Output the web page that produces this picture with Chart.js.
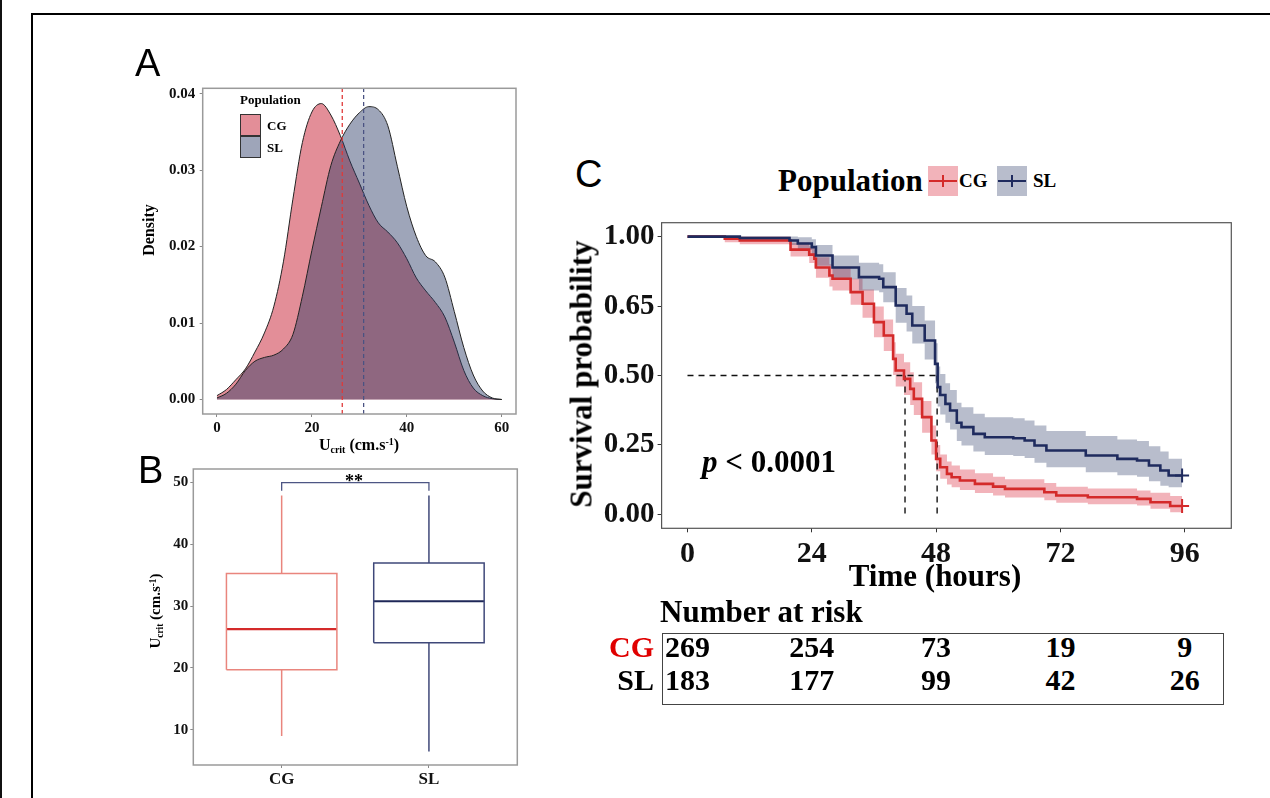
<!DOCTYPE html>
<html><head><meta charset="utf-8">
<script src="https://cdn.jsdelivr.net/npm/chart.js@4.4.1/dist/chart.umd.min.js"></script>
<style>
html,body{margin:0;padding:0;background:#fff;}
body{width:1270px;height:798px;overflow:hidden;position:relative;}
canvas{position:absolute;}
.t{position:absolute;white-space:nowrap;font-family:"Liberation Serif","Times New Roman",serif;font-weight:bold;color:#000;line-height:1;}
.t sub{font-size:0.62em;vertical-align:baseline;position:relative;top:0.3em;}
.t sup{font-size:0.62em;vertical-align:baseline;position:relative;top:-0.45em;}
.box{position:absolute;box-sizing:border-box;}
</style></head><body>
<div class="box" style="left:0;top:0;width:2px;height:798px;background:#111"></div>
<div class="box" style="left:31px;top:13px;width:1300px;height:900px;border-left:2px solid #000;border-top:2px solid #000"></div>
<canvas id="cA" width="400" height="380" style="left:130px;top:80px"></canvas>
<canvas id="cB" width="400" height="338" style="left:130px;top:460px"></canvas>
<canvas id="cC" width="700" height="400" style="left:560px;top:200px"></canvas>
<script>
// ---------- Panel A: density of Ucrit ----------
const densityX   = [0,2,4,6,8,10,12,14,16,18,20,22,24,26,28,30,32,34,36,38,40,42,44,46,48,50,52,54,56,58,60];
const cgDensity  = [0.0005,0.0013,0.0026,0.0040,0.0062,0.0087,0.0122,0.0180,0.0262,0.0336,0.0376,0.0387,0.0372,0.0345,0.0312,0.0283,0.0254,0.0231,0.0219,0.0205,0.0184,0.0159,0.0142,0.0127,0.0108,0.0075,0.0038,0.0015,0.0005,0.0001,0.0000];
const slDensity  = [0.0002,0.0008,0.0020,0.0038,0.0050,0.0055,0.0058,0.0066,0.0085,0.0135,0.0195,0.0252,0.0306,0.0338,0.0360,0.0375,0.0383,0.0379,0.0358,0.0305,0.0252,0.0213,0.0188,0.0180,0.0160,0.0115,0.0068,0.0032,0.0011,0.0002,0.0000];
const densXTicks = [0,20,40,60];
const densYTicks = [0,0.01,0.02,0.03,0.04];
const centerLines = [26.4, 30.9];           // CG, SL
// ---------- Panel B: boxplot ----------
const boxCategories = ['CG','SL'];
const cgBox = [9.0, 19.7, 26.3, 35.3, 47.9]; // min, q1, median, q3, max
const slBox = [6.5, 24.1, 30.8, 37.0, 47.9];
const boxYTicks = [10,20,30,40,50];
const sigBracket = [48.7, 50];
const sigLabel = '**';
// ---------- Panel C: survival ----------
const survXTicks = [0,24,48,72,96];
const survYTicks = [0,0.25,0.5,0.75,1];
const survYLabels = ['0.00','0.25','0.50','0.65','1.00'];
const cgTime  = [0,7.2,10.1,19.9,23.5,24.5,24.8,27.4,28.0,31.5,33.8,36.0,37.9,39.7,40.2,41.8,43.0,43.7,45.3,47.1,48.0,48.8,50.1,51.0,52.6,55.5,59.0,61.3,68.9,71.2,77.3,86.8,89.4,93.2,95.5];
const cgSurv  = [1.0,0.992,0.986,0.953,0.935,0.92,0.889,0.86,0.848,0.80,0.758,0.692,0.644,0.56,0.518,0.488,0.452,0.416,0.35,0.266,0.20,0.17,0.146,0.134,0.122,0.110,0.100,0.092,0.080,0.068,0.062,0.056,0.044,0.030,0.030];
const cgUpper = [1.0,1.0,1.0,0.978,0.965,0.953,0.926,0.9,0.89,0.848,0.81,0.748,0.702,0.62,0.578,0.548,0.512,0.476,0.408,0.32,0.25,0.216,0.19,0.176,0.162,0.148,0.136,0.127,0.113,0.1,0.093,0.086,0.078,0.066,0.066];
const cgLower = [1.0,0.98,0.972,0.928,0.905,0.888,0.852,0.82,0.806,0.755,0.708,0.638,0.588,0.502,0.46,0.43,0.394,0.358,0.294,0.216,0.155,0.128,0.108,0.098,0.088,0.077,0.068,0.061,0.051,0.042,0.037,0.032,0.02,0.008,0.008];
const slTime  = [0,10.1,19.7,21.3,24.0,24.8,28.0,33.1,37.0,37.8,40.2,42.3,43.4,45.8,47.8,48.3,48.8,49.8,50.7,52.0,52.9,55.2,57.4,62.9,65.1,67.0,69.3,76.9,83.0,86.8,89.1,91.3,92.9,95.5];
const slSurv  = [1.0,0.995,0.986,0.975,0.962,0.932,0.889,0.854,0.848,0.818,0.752,0.722,0.680,0.626,0.542,0.458,0.43,0.398,0.374,0.33,0.314,0.29,0.278,0.274,0.266,0.248,0.230,0.212,0.20,0.194,0.176,0.158,0.140,0.140];
const slUpper = [1.0,1.0,1.0,0.998,0.99,0.97,0.932,0.906,0.9,0.872,0.815,0.788,0.75,0.698,0.616,0.532,0.505,0.472,0.448,0.402,0.386,0.362,0.35,0.346,0.338,0.32,0.3,0.282,0.27,0.264,0.245,0.226,0.2,0.2];
const slLower = [1.0,0.985,0.97,0.952,0.934,0.895,0.846,0.806,0.8,0.764,0.69,0.658,0.615,0.558,0.472,0.388,0.36,0.33,0.306,0.264,0.248,0.226,0.214,0.21,0.203,0.186,0.17,0.152,0.141,0.136,0.119,0.103,0.098,0.098];
const medianTimes = [42.0, 48.2];
const riskTimes = [0,24,48,72,96];
const cgRisk = [269,254,73,19,9];
const slRisk = [183,177,99,42,26];

const SERIF = '"Liberation Serif","Times New Roman",serif';
const RED = '#d42a2a', NAVY = '#1f2b5e';

function pts(xs, ys){ return xs.map((x,i)=>({x, y:ys[i]})); }
function fixScale(size, horizontal){ return s => { if(horizontal) s.height=size; else s.width=size; s.paddingTop=0; s.paddingBottom=0; s.paddingLeft=0; s.paddingRight=0; }; }
function setTicks(arr){ return s => { s.ticks = arr.map(v=>({value:v})); }; }
const frameBox = { id:'frameBox', afterDatasetsDraw(chart, args, o){ const {ctx, chartArea:a} = chart; ctx.save(); ctx.strokeStyle=o.color; ctx.lineWidth=o.width; ctx.strokeRect(a.left, a.top, a.right-a.left, a.bottom-a.top); ctx.restore(); } };
function base(padding, boxColor, boxWidth){
  return {responsive:false, animation:false, devicePixelRatio:1, events:[], layout:{padding},
    plugins:{legend:{display:false}, tooltip:{enabled:false}, frameBox:{color:boxColor, width:boxWidth}}};
}
function axis(o){
  return {type:'linear', min:o.min, max:o.max, afterBuildTicks:setTicks(o.ticks), afterFit:fixScale(o.size, o.horizontal),
    ticks:{autoSkip:false, maxRotation:0, padding:o.pad, color:'#111', font:{family:SERIF, weight:'bold', size:o.font, lineHeight:1}, callback:o.cb},
    grid:{drawOnChartArea:false, drawTicks:true, tickLength:o.tl, color:o.tc, lineWidth:1}, border:{display:false}};
}

// Panel A chart
const cgFill = 'rgba(200,30,50,0.5)', slFill = 'rgba(40,55,100,0.45)';
new Chart(document.getElementById('cA'), {
  type:'line',
  data:{datasets:[
    {data:pts(densityX, cgDensity), fill:'origin', backgroundColor:cgFill, borderColor:'#222', borderWidth:1, pointRadius:0, cubicInterpolationMode:'monotone', order:3},
    {data:pts(densityX, slDensity), fill:'origin', backgroundColor:slFill, borderColor:'#222', borderWidth:1, pointRadius:0, cubicInterpolationMode:'monotone', order:2},
    {data:[{x:centerLines[0],y:-0.0019},{x:centerLines[0],y:0.0407}], borderColor:'#e03a3a', borderWidth:1.3, borderDash:[4,3], pointRadius:0, fill:false, order:1},
    {data:[{x:centerLines[1],y:-0.0019},{x:centerLines[1],y:0.0407}], borderColor:'#4a5282', borderWidth:1.3, borderDash:[4,3], pointRadius:0, fill:false, order:1}
  ]},
  options:Object.assign(base({top:8.3,right:14,left:0,bottom:0}, '#9a9a9a', 1.5), {scales:{
    x:axis({min:-3,max:63,ticks:densXTicks,size:46,horizontal:true,pad:4,font:15,tl:3,tc:'#888',cb:v=>String(v)}),
    y:axis({min:-0.0019,max:0.0407,ticks:densYTicks,size:72.7,horizontal:false,pad:4.5,font:15,tl:3,tc:'#888',cb:v=>v.toFixed(2)})
  }}),
  plugins:[frameBox]
});

// Panel B chart
function boxDatasets(stats, c, col, medCol){
  const h = 0.375, [mn,q1,md,q3,mx] = stats;
  const common = {pointRadius:0, fill:false, borderColor:col, borderWidth:1.5};
  return [
    Object.assign({data:[{x:c-h,y:q1},{x:c+h,y:q1},{x:c+h,y:q3},{x:c-h,y:q3},{x:c-h,y:q1}]}, common),
    Object.assign({data:[{x:c,y:q3},{x:c,y:mx}]}, common),
    Object.assign({data:[{x:c,y:q1},{x:c,y:mn}]}, common),
    Object.assign({}, common, {data:[{x:c-h,y:md},{x:c+h,y:md}], borderColor:medCol, borderWidth:2.2})
  ];
}
new Chart(document.getElementById('cB'), {
  type:'line',
  data:{datasets:[
    ...boxDatasets(cgBox, 1, '#e9857d', '#d42a2a'),
    ...boxDatasets(slBox, 2, '#3f4879', '#1f2858'),
    {data:[{x:1,y:sigBracket[0]},{x:1,y:sigBracket[1]},{x:2,y:sigBracket[1]},{x:2,y:sigBracket[0]}], borderColor:'#4d5684', borderWidth:1.3, pointRadius:0, fill:false}
  ]},
  options:Object.assign(base({top:9,right:12.7,left:0,bottom:0}, '#9a9a9a', 1.5), {scales:{
    x:axis({min:0.4,max:2.6,ticks:[1,2],size:33,horizontal:true,pad:3,font:17,tl:3,tc:'#888',cb:v=>boxCategories[Math.round(v)-1]}),
    y:axis({min:4.3,max:52.2,ticks:boxYTicks,size:63.3,horizontal:false,pad:2,font:15,tl:3,tc:'#888',cb:v=>String(v)})
  }}),
  plugins:[frameBox]
});

// Panel C chart
const cgBand = 'rgba(215,25,45,0.33)', slBand = 'rgba(40,55,100,0.33)';
function cross(n){ return ctx => ctx.dataIndex === n-1 ? 7 : 0; }
const chartC = new Chart(document.getElementById('cC'), {
  type:'line',
  data:{datasets:[
    {data:pts(cgTime,cgUpper), stepped:true, fill:'+1', backgroundColor:cgBand, borderWidth:0, pointRadius:0, order:5},
    {data:pts(cgTime,cgLower), stepped:true, fill:false, borderWidth:0, pointRadius:0, order:5},
    {data:pts(slTime,slUpper), stepped:true, fill:'+1', backgroundColor:slBand, borderWidth:0, pointRadius:0, order:4},
    {data:pts(slTime,slLower), stepped:true, fill:false, borderWidth:0, pointRadius:0, order:4},
    {data:pts(cgTime,cgSurv), stepped:true, fill:false, borderColor:RED, borderWidth:2.6, pointStyle:'cross', pointRadius:cross(cgTime.length), pointBorderColor:RED, pointBorderWidth:2, order:2},
    {data:pts(slTime,slSurv), stepped:true, fill:false, borderColor:NAVY, borderWidth:2.6, pointStyle:'cross', pointRadius:cross(slTime.length), pointBorderColor:NAVY, pointBorderWidth:2, order:1},
    {data:[{x:0,y:0.5},{x:medianTimes[1],y:0.5}], borderColor:'#111', borderWidth:1.4, borderDash:[6,5], pointRadius:0, fill:false, order:3},
    {data:[{x:medianTimes[0],y:0.5},{x:medianTimes[0],y:0}], borderColor:'#111', borderWidth:1.4, borderDash:[6,5], pointRadius:0, fill:false, order:3},
    {data:[{x:medianTimes[1],y:0.5},{x:medianTimes[1],y:0}], borderColor:'#111', borderWidth:1.4, borderDash:[6,5], pointRadius:0, fill:false, order:3}
  ]},
  options:Object.assign(base({top:22.7,right:28.7,left:0,bottom:0}, '#555', 1.2), {scales:{
    x:axis({min:-5,max:105,ticks:survXTicks,size:71.7,horizontal:true,pad:7,font:30,tl:4,tc:'#333',cb:v=>String(v)}),
    y:axis({min:-0.05,max:1.05,ticks:survYTicks,size:101.6,horizontal:false,pad:3,font:29,tl:4,tc:'#333',cb:(v,i)=>survYLabels[i]})
  }}),
  plugins:[frameBox]
});

// ---------- text overlays ----------
function txt(html, x, y, size, o={}){
  const d = document.createElement('div');
  d.className = 't'; d.innerHTML = html; d.style.fontSize = size+'px';
  if (o.sans){ d.style.fontFamily = '"Liberation Sans",Arial,sans-serif'; d.style.fontWeight = 'normal'; }
  if (o.color) d.style.color = o.color;
  d.style.left = x+'px';
  if (o.rotate){ d.style.top = y+'px'; d.style.transform = 'translate(-50%,-50%) rotate(-90deg)'; }
  else {
    d.style.top = (y - (o.sans ? 0.8465 : 0.8375)*size) + 'px';
    const tx = o.align==='center' ? '-50%' : o.align==='right' ? '-100%' : '0';
    d.style.transform = 'translateX('+tx+')';
  }
  document.body.appendChild(d); return d;
}
function rect(x,y,w,h,style){ const d=document.createElement('div'); d.className='box'; d.style.cssText+=`left:${x}px;top:${y}px;width:${w}px;height:${h}px;`+style; document.body.appendChild(d); return d; }

// Panel A
txt('A', 135, 76, 38, {sans:true});
txt('Density', 149, 230, 16, {rotate:true});
txt('U<sub>crit</sub> (cm.s<sup>-1</sup>)', 359, 450, 16, {align:'center'});
txt('Population', 240, 104, 13);
rect(240,114,21,22,'background:'+cgFill+';border:1px solid #333;');
rect(240,135.5,21,22,'background:'+slFill+';border:1px solid #333;');
txt(boxCategories[0], 267, 130, 13);
txt(boxCategories[1], 267, 151.5, 13);
// Panel B
txt('B', 138, 483, 38, {sans:true});
txt('U<sub>crit</sub> (cm.s<sup>-1</sup>)', 155, 611, 15, {rotate:true});
txt(sigLabel, 354, 487, 18, {align:'center'});
// Panel C
txt('C', 575, 187, 38, {sans:true});
txt('Population', 778, 191, 31);
rect(928,166,30,30,'background:'+cgBand+';');
rect(929,179.7,28,2.6,'background:'+RED+';');
rect(942,175,2,12,'background:'+RED+';');
txt(boxCategories[0], 959, 187, 19);
rect(997,166,30,30,'background:'+slBand+';');
rect(998,179.7,28,2.6,'background:'+NAVY+';');
rect(1011,175,2,12,'background:'+NAVY+';');
txt(boxCategories[1], 1033, 187, 19);
txt('Survival probability', 581, 374, 31, {rotate:true});
txt('Time (hours)', 935, 586, 31, {align:'center'});
txt('<i>p</i> &lt; 0.0001', 702, 472, 31);
txt('Number at risk', 660, 622, 31);
rect(662,633,562,72,'border:1px solid #444;');
txt(boxCategories[0], 654, 657, 30, {align:'right', color:'#e00000'});
txt(boxCategories[1], 654, 690, 30, {align:'right'});
const sx = chartC.scales.x;
riskTimes.forEach((t,i)=>{
  const px = 560 + sx.getPixelForValue(t);
  txt(String(cgRisk[i]), px, 657, 30, {align:'center'});
  txt(String(slRisk[i]), px, 690, 30, {align:'center'});
});
</script>
</body></html>
